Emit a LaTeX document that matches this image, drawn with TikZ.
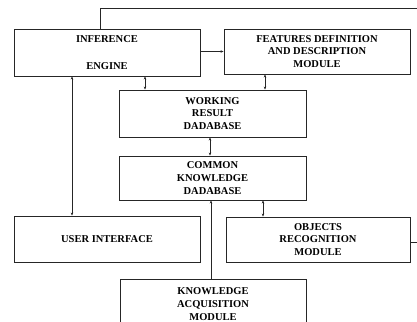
\documentclass[tikz,border=0pt]{standalone}
\usepackage{fontspec}
\setmainfont{Liberation Serif}
\usetikzlibrary{arrows.meta}
\begin{document}
\begin{tikzpicture}[x=1pt,y=1pt,
  box/.style={draw=black!85,line width=0.9pt,inner sep=0pt,align=center,
    font=\fontsize{10.5}{12.8}\selectfont\bfseries},
  link/.style={line width=0.8pt,black!85},
  tip/.style={-{Stealth[length=3pt,width=2.5pt]}},
  tips/.style={{Stealth[length=3pt,width=2.5pt]}-{Stealth[length=3pt,width=2.5pt]}}]
\useasboundingbox (0,0) rectangle (417,-321);
\clip (0,0) rectangle (417,-321);
\node[box,minimum width=186pt,minimum height=47pt] (inf) at (107,-52.5) {INFERENCE\\[14pt]ENGINE};
\node[box,minimum width=186pt,minimum height=45pt] (feat) at (317,-51.5) {FEATURES DEFINITION\\AND DESCRIPTION\\MODULE};
\node[box,minimum width=187pt,minimum height=47pt] (work) at (212.5,-113.5) {WORKING\\RESULT\\DADABASE};
\node[box,minimum width=187pt,minimum height=44pt] (comm) at (212.5,-178) {COMMON\\KNOWLEDGE\\DADABASE};
\node[box,minimum width=186pt,minimum height=46pt] (user) at (107,-239) {USER INTERFACE};
\node[box,minimum width=184pt,minimum height=45pt] (obj) at (318,-239.5) {OBJECTS\\RECOGNITION\\MODULE};
\node[box,minimum width=186pt,minimum height=50pt,yshift=-2pt] (acq) at (213,-302) {KNOWLEDGE\\ACQUISITION\\MODULE};
\coordinate (xa) at (145,0);
\coordinate (xb) at (265,0);
\coordinate (xc) at (210,0);
\coordinate (xd) at (72,0);
\coordinate (xe) at (263,0);
\coordinate (xf) at (211,0);
\coordinate (xg) at (100,0);
\coordinate (top) at (0,-8);
\coordinate (redge) at (417,-8);
\coordinate (redge2) at (417,-242);
\draw[link,tip] (inf.east |- feat.west) -- (feat.west);
\draw[link,tips] (inf.south -| xa) -- (work.north -| xa);
\draw[link,tips] (feat.south -| xb) -- (work.north -| xb);
\draw[link,tips] (work.south -| xc) -- (comm.north -| xc);
\draw[link,tips] (user.north -| xd) -- (inf.south -| xd);
\draw[link,tips] (comm.south -| xe) -- (obj.north -| xe);
\draw[link,tip] (acq.north -| xf) -- (comm.south -| xf);
\draw[link] (inf.north -| xg) -- (top -| xg) -- (redge);
\draw[link] (obj.east |- redge2) -- (redge2);
\end{tikzpicture}
\end{document}
